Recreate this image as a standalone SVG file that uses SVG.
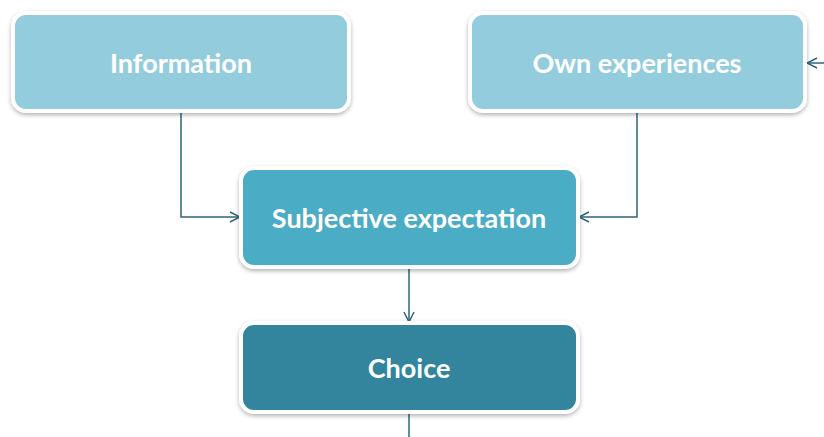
<svg xmlns="http://www.w3.org/2000/svg" width="824" height="437" viewBox="0 0 824 437">
  <defs>
    <filter id="shadow" x="-5%" y="-10%" width="110%" height="125%">
      <feDropShadow dx="0" dy="2" stdDeviation="2" flood-color="#000" flood-opacity="0.3"/>
    </filter>
    <marker id="arrow" viewBox="0 0 12 12" refX="11" refY="6" markerWidth="12" markerHeight="12" markerUnits="userSpaceOnUse" orient="auto">
      <path d="M1,1 L11,6 L1,11" fill="none" stroke="#2F6478" stroke-width="1.5"/>
    </marker>
  </defs>
  <style>
    .box { stroke: #fff; stroke-width: 4; filter: url(#shadow); }
    .light { fill: #93CDDD; }
    .mid { fill: #4BACC6; }
    .dark { fill: #31859C; }
    .label { font-family: Lato, "Open Sans", "Liberation Sans", sans-serif; font-weight: bold; font-size: 27px; fill: #fff; text-anchor: middle; }
    .conn { fill: none; stroke: #2F6478; stroke-width: 1.5; }
  </style>
  <rect width="824" height="437" fill="#fff"/>

  <g id="connectors">
    <path class="conn" d="M181,113 V217 H240" marker-end="url(#arrow)"/>
    <path class="conn" d="M637,113 V217 H579" marker-end="url(#arrow)"/>
    <path class="conn" d="M409,268 V322" marker-end="url(#arrow)"/>
    <path class="conn" d="M409,413 V437"/>
    <path class="conn" d="M824,63 H807" marker-end="url(#arrow)"/>
  </g>

  <g id="information">
    <rect class="box light" x="13" y="13" width="336" height="98" rx="13"/>
    <text class="label" x="181" y="73">Information</text>
  </g>
  <g id="own-experiences">
    <rect class="box light" x="470" y="13" width="335" height="98" rx="13"/>
    <text class="label" x="637" y="73">Own experiences</text>
  </g>
  <g id="subjective-expectation">
    <rect class="box mid" x="241" y="168" width="337" height="99" rx="13"/>
    <text class="label" x="409" y="228">Subjective expectation</text>
  </g>
  <g id="choice">
    <rect class="box dark" x="241" y="323" width="337" height="89" rx="13"/>
    <text class="label" x="409" y="378">Choice</text>
  </g>
</svg>
